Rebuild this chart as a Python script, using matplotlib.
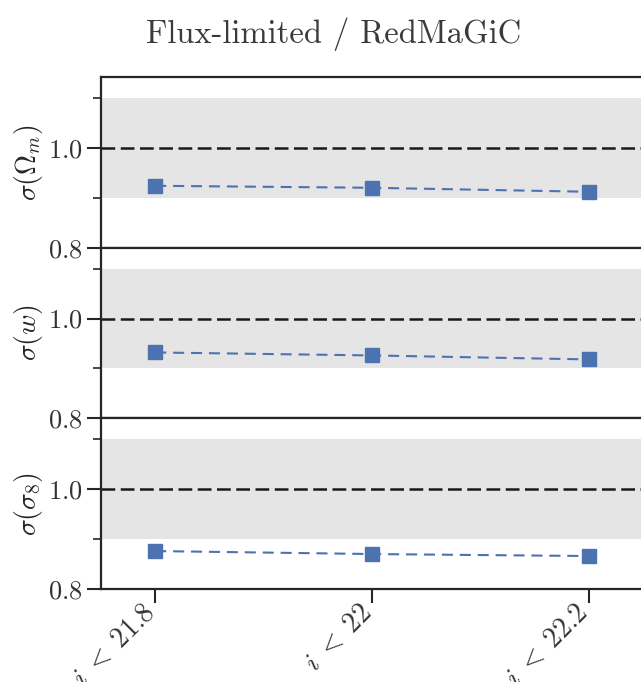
import matplotlib
matplotlib.use("Agg")
import matplotlib.pyplot as plt
import matplotlib.transforms as mtransforms
from matplotlib.ticker import MultipleLocator

plt.rcParams['font.family'] = 'serif'
plt.rcParams['font.serif'] = ['cmr10', 'DejaVu Serif']
plt.rcParams['mathtext.fontset'] = 'cm'
plt.rcParams['axes.formatter.use_mathtext'] = True
plt.rcParams['axes.unicode_minus'] = False

# data
cuts = [r'$i\;<\;21.8$', r'$i\;<\;22$', r'$i\;<\;22.2$']
sigma_om = [0.924, 0.920, 0.912]
sigma_w = [0.932, 0.926, 0.918]
sigma_s8 = [0.876, 0.870, 0.866]
ylabels = [r'$\sigma(\Omega_m)$', r'$\sigma(w)$', r'$\sigma(\sigma_8)$']
band = (0.9, 1.1)

fig, axs = plt.subplots(3, 1, sharex=True, figsize=(6.41, 6.82), dpi=100)
fig.subplots_adjust(left=0.1576, right=1.0031, top=0.8871, bottom=0.1364, hspace=0)

x = list(range(len(cuts)))
for ax, vals, lab in zip(axs, [sigma_om, sigma_w, sigma_s8], ylabels):
    ax.axhspan(band[0], band[1], color='#e5e5e5', lw=0, zorder=0)
    ax.axhline(1.0, color='#1a1a1a', ls='--', lw=1.8, dashes=(5.5, 2.2), zorder=1)
    ax.plot(x, vals, ls='--', marker='s', color='#4c72b0', ms=9.5, lw=1.5,
            dashes=(5.3, 3.3), zorder=3)
    ax.set_xlim(-0.25, 2.25)
    ax.set_ylim(0.8, 1.142)
    ax.yaxis.set_major_locator(MultipleLocator(0.2))
    ax.yaxis.set_minor_locator(MultipleLocator(0.1))
    ax.set_ylabel(lab, fontsize=20, labelpad=2, color='#262626')
    ax.tick_params(axis='y', which='major', length=10, width=1.5, labelsize=19,
                   color='#262626', labelcolor='#333333')
    ax.tick_params(axis='y', which='minor', length=6, width=1.2, color='#262626')
    ax.tick_params(axis='x', which='both', bottom=False, top=False)
    for s in ax.spines.values():
        s.set_linewidth(1.6)
        s.set_color('#262626')

axs[-1].set_xticks(x)
axs[-1].set_xticklabels(cuts, rotation=45, ha='right', fontsize=20, color='#333333')
axs[-1].tick_params(axis='x', bottom=True, length=10, width=1.5, color='#262626', pad=-4)
# nudge rotated labels so their upper end sits under the tick
shift = mtransforms.ScaledTranslation(0.05, -0.02, fig.dpi_scale_trans)
for t in axs[-1].get_xticklabels():
    t.set_transform(t.get_transform() + shift)

fig.suptitle('Flux-limited / RedMaGiC', x=0.52, y=0.975, fontsize=23.5, color='#3a3a3a')

fig.savefig('out.png', dpi=100)
